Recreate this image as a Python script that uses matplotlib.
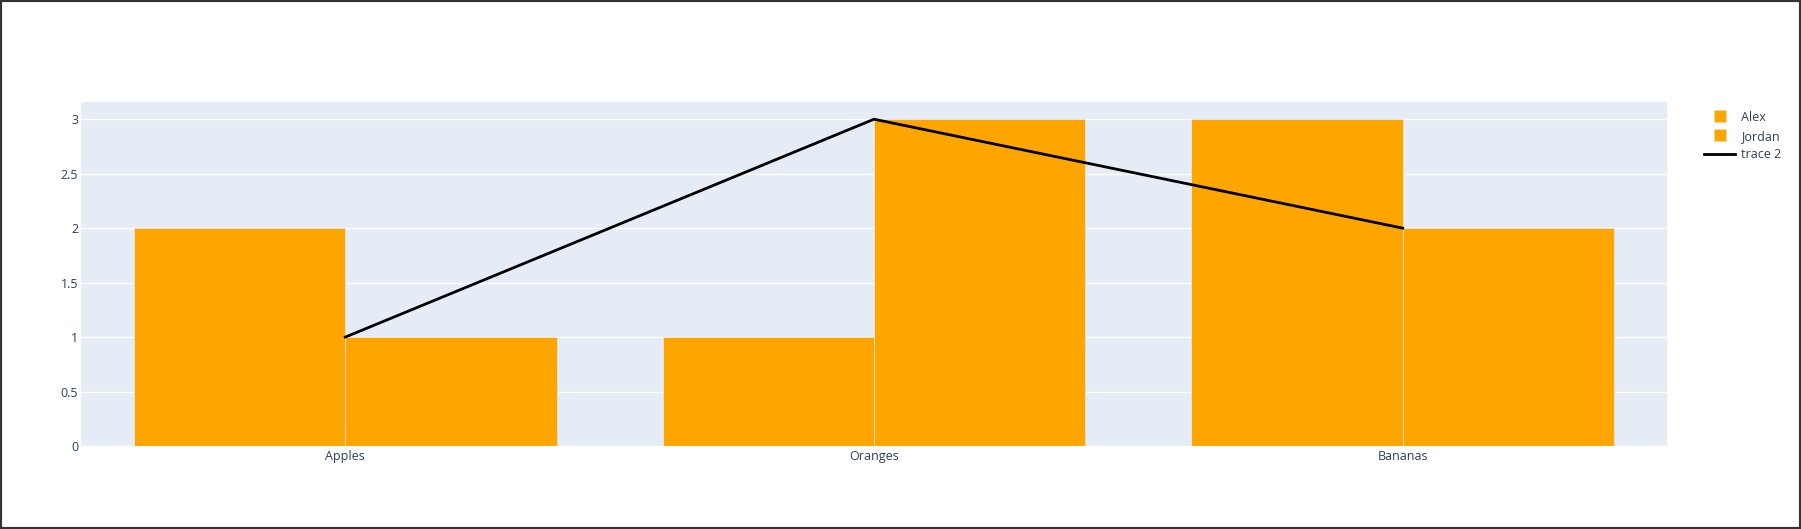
import matplotlib
matplotlib.use("Agg")
import matplotlib.pyplot as plt
from matplotlib.lines import Line2D
from matplotlib.patches import Rectangle
import numpy as np

# data
fruits = ["Apples", "Oranges", "Bananas"]
alex = [2, 1, 3]
jordan = [1, 3, 2]
trace2 = [1, 3, 2]

BAR_COLOR = "#FFA500"
TEXT_COLOR = "#2a3f5f"

plt.rcParams["font.family"] = ["Open Sans", "DejaVu Sans"]

W, H = 1801, 529
fig = plt.figure(figsize=(W / 100, H / 100), dpi=100)
fig.patch.set_facecolor("white")

# plot area in pixels (left, top, right, bottom)
L, T, R, B = 81, 102, 1667, 446
ax = fig.add_axes([L / W, 1 - B / H, (R - L) / W, (B - T) / H])
ax.set_facecolor("#E5ECF6")

x = np.arange(len(fruits))
bw = 0.4
ax.bar(x - bw / 2, alex, width=bw, color=BAR_COLOR, edgecolor="#E5ECF6",
       linewidth=0.5, zorder=3, label="Alex")
ax.bar(x + bw / 2, jordan, width=bw, color=BAR_COLOR, edgecolor="#E5ECF6",
       linewidth=0.5, zorder=3, label="Jordan")
ax.plot(x, trace2, color="black", linewidth=2, zorder=4, label="trace 2")

ax.set_xlim(-0.5, 2.5)
ax.set_ylim(0, 3.158)
ax.set_yticks([0, 0.5, 1, 1.5, 2, 2.5, 3])
ax.set_yticklabels(["0", "0.5", "1", "1.5", "2", "2.5", "3"])
ax.set_xticks(x)
ax.set_xticklabels(fruits)
ax.grid(axis="y", color="white", linewidth=1, zorder=1)
ax.set_axisbelow(True)
for s in ax.spines.values():
    s.set_visible(False)
ax.tick_params(axis="both", length=0, labelsize=9, labelcolor=TEXT_COLOR)
ax.tick_params(axis="y", pad=2)
ax.tick_params(axis="x", pad=3)

# legend: small squares for the bars, a line for trace 2
handles = [
    Line2D([0], [0], marker="s", linestyle="none", markersize=8,
           markerfacecolor=BAR_COLOR, markeredgecolor="#F5D9A8",
           markeredgewidth=0.5),
    Line2D([0], [0], marker="s", linestyle="none", markersize=8,
           markerfacecolor=BAR_COLOR, markeredgecolor="#F5D9A8",
           markeredgewidth=0.5),
    Line2D([0], [0], color="black", linewidth=2),
]
leg = fig.legend(handles, ["Alex", "Jordan", "trace 2"], loc="upper left",
                 bbox_to_anchor=(1704 / W, 1 - 111 / H), frameon=False,
                 fontsize=9, handlelength=2.5, handleheight=0.9,
                 handletextpad=0.45, labelspacing=0.45, borderaxespad=0,
                 borderpad=0)
for t in leg.get_texts():
    t.set_color(TEXT_COLOR)

# dark frame round the picture
fig.patches.append(Rectangle((0, 0), 1, 1, transform=fig.transFigure,
                             fill=False, edgecolor="#333333", linewidth=3,
                             zorder=10))

fig.savefig("out.png", dpi=100)
